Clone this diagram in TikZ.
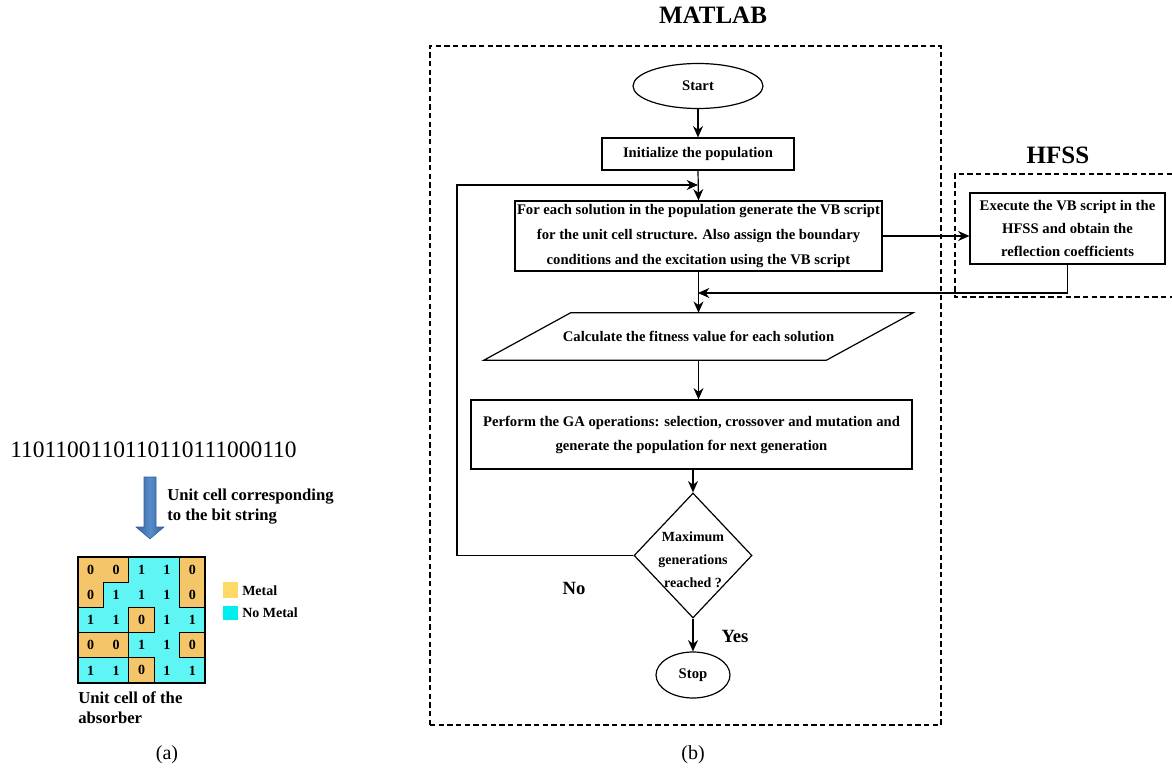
\documentclass[tikz,border=0pt]{standalone}
\usepackage{fontspec}
\setmainfont{Liberation Serif}
\usetikzlibrary{shapes.geometric,arrows.meta}
\definecolor{metal}{RGB}{245,198,105}
\definecolor{nometal}{RGB}{95,245,245}
\definecolor{legmetal}{RGB}{255,217,102}
\definecolor{legcyan}{RGB}{0,238,238}
\definecolor{arrowdark}{RGB}{52,96,158}
\definecolor{arrowlight}{RGB}{88,140,200}
\begin{document}
\begin{tikzpicture}[x=0.75pt,y=-0.75pt,
  boxfont/.style={font=\bfseries\fontsize{11}{18.75}\selectfont},
  flow/.style={draw, line width=0.9pt, inner sep=0pt, align=center, boxfont},
  conn/.style={line width=0.9pt, -{Stealth[length=8.5pt,width=7.5pt]}},
  region/.style={draw, line width=0.8pt, dash pattern=on 4pt off 2.5pt},
  titlefont/.style={font=\bfseries\fontsize{18.75}{22}\selectfont},
  answer/.style={font=\bfseries\fontsize{14}{16}\selectfont},
  caption/.style={font=\fontsize{15}{18}\selectfont},
  notefont/.style={font=\bfseries\fontsize{12.5}{15}\selectfont, align=left, inner sep=0pt, anchor=west},
  legendfont/.style={font=\bfseries\fontsize{10.5}{12}\selectfont, inner sep=0pt, anchor=west},
  cellfont/.style={font=\bfseries\fontsize{10.5}{12}\selectfont},
  gridline/.style={line width=0.8pt, line cap=rect}
]
\useasboundingbox (0,0) rectangle (1172,771);

% ---------- (b) flowchart ----------
\node[region, minimum width=383.25pt, minimum height=509.25pt] (matlabbox) at (685.5,385.5) {};
\draw[region] (1172,174) -- (955,174) -- (955,297) -- (1172,297);

\node[titlefont] (matlabtitle) at (713,15) {MATLAB};
\node[titlefont] (hfsstitle) at (1058,155) {HFSS};

\node[flow, ellipse, minimum width=97.5pt, minimum height=33.75pt] (start) at (698,86) {Start};
\node[flow, minimum width=144pt, minimum height=24pt] (init) at (698,154) {Initialize the population};
\node[flow, minimum width=275.25pt, minimum height=52.5pt] (vb) at (698.5,236)
  {For each solution in the population generate the VB script\\
   for the unit cell structure. Also assign the boundary\\
   conditions and the excitation using the VB script};
\node[flow, minimum width=146.25pt, minimum height=53.25pt, font=\bfseries\fontsize{11}{17.25}\selectfont] (hfssbox) at (1067.5,228.5)
  {Execute the VB script in the\\HFSS and obtain the\\reflection coefficients};
\node[boxfont, inner sep=0pt, minimum width=256.5pt, minimum height=35.25pt] (calc) at (698.5,336.5)
  {Calculate the fitness value for each solution};
\draw[line width=0.9pt] ([xshift=32.6pt]calc.north west) -- ([xshift=32.6pt]calc.north east)
  -- ([xshift=-32.6pt]calc.south east) -- ([xshift=-32.6pt]calc.south west) -- cycle;
\node[flow, minimum width=330.75pt, minimum height=51.75pt, font=\bfseries\fontsize{11}{18}\selectfont] (ga) at (691.5,434.5)
  {Perform the GA operations: selection, crossover and mutation and\\
   generate the population for next generation};
\node[draw, line width=0.9pt, diamond, minimum width=88.5pt, minimum height=93.75pt, inner sep=0pt,
      label={[font=\bfseries\fontsize{10.5}{17.25}\selectfont, align=center, yshift=-3.4pt]center:Maximum\\generations\\reached ?}] (dec) at (693,555.5) {};
\node[flow, ellipse, minimum width=55.5pt, minimum height=34.5pt] (stop) at (693,675) {Stop};

\node[answer] (yes) at (735,636) {Yes};
\node[answer] (no) at (574,588) {No};

\coordinate (loopcorner) at (457,185);
\coordinate (loopend) at (698,185);
\coordinate (ret) at (698,293);

\draw[conn] (start.south) -- (init.north);
\draw[conn] (init.south) -- (vb.north);
\draw[conn] (dec.west) -| (loopcorner) -- (loopend);
\draw[conn] (vb.east) -- (vb.east -| hfssbox.west);
\draw[conn] (hfssbox.south) |- (ret);
\draw[conn] (vb.south) -- (calc.north);
\draw[conn] (calc.south) -- (calc.south |- ga.north);
\draw[conn] (ga.south -| dec.north) -- (dec.north);
\draw[conn] (dec.south) -- (stop.north);

\node[caption] (capb) at (693,755) {(b)};

% ---------- (a) unit cell ----------
\node[font=\fontsize{17.6}{20}\selectfont, inner sep=0pt, anchor=west] (bits) at (10,450) {1101100110110110111000110};

\shade[left color=arrowdark, right color=arrowdark, middle color=arrowlight, draw=arrowdark, line width=0.4pt]
  (144,477) -- (156,477) -- (156,527) -- (164,527) -- (150,539) -- (136,527) -- (144,527) -- cycle;

\node[notefont] (maplabel) at (167,507) {Unit cell corresponding\\to the bit string};

\begin{scope}[shift={(78,557)}, x=19.05pt, y=-18.9pt]
  \foreach \v [count=\i from 0] in {0,0,1,1,0, 0,1,1,1,0, 1,1,0,1,1, 0,0,1,1,0, 1,1,0,1,1} {
    \pgfmathtruncatemacro\cc{mod(\i,5)}
    \pgfmathtruncatemacro\rr{div(\i,5)}
    \ifnum\v=0 \def\cellcol{metal}\else\def\cellcol{nometal}\fi
    \node[fill=\cellcol, draw=\cellcol, line width=0.2pt, minimum width=19.05pt, minimum height=18.9pt, inner sep=0pt, cellfont] (cell\i) at (\cc+0.5,\rr+0.5) {\v};
  }
  % vertical region borders
  \draw[gridline] (2,0) -- (2,1) (4,0) -- (4,1);
  \draw[gridline] (1,1) -- (1,2) (4,1) -- (4,2);
  \draw[gridline] (2,2) -- (2,3) (3,2) -- (3,3);
  \draw[gridline] (2,3) -- (2,4) (4,3) -- (4,4);
  \draw[gridline] (2,4) -- (2,5) (3,4) -- (3,5);
  % horizontal region borders
  \draw[gridline] (1,1) -- (2,1);
  \draw[gridline] (0,2) -- (1,2) (2,2) -- (3,2) (4,2) -- (5,2);
  \draw[gridline] (0,3) -- (3,3) (4,3) -- (5,3);
  \draw[gridline] (0,4) -- (3,4) (4,4) -- (5,4);
  \draw[line width=0.9pt] (0,0) rectangle (5,5);
\end{scope}

\node[fill=legmetal, minimum width=11.25pt, minimum height=11.5pt, inner sep=0pt] (legm) at (230.5,590) {};
\node[fill=legcyan, minimum width=11.25pt, minimum height=11pt, inner sep=0pt] (legc) at (230.5,613) {};
\node[legendfont] (legmtext) at (242,591) {Metal};
\node[legendfont] (legctext) at (242,613) {No Metal};

\node[notefont] (celllabel) at (78,708) {Unit cell of the\\absorber};

\node[caption] (capa) at (167,755) {(a)};
\end{tikzpicture}
\end{document}
